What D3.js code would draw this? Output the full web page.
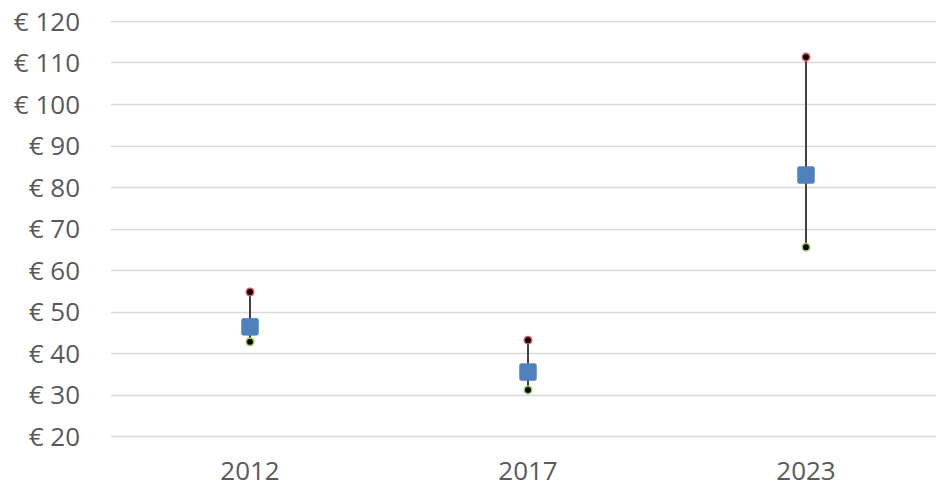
<!DOCTYPE html>
<html><head><meta charset="utf-8">
<script src="https://cdn.jsdelivr.net/npm/d3@7"></script>
<style>body{margin:0;background:#fff}svg{display:block}</style>
</head><body>
<svg id="c" width="936" height="493"></svg>
<script>
const categories = ["2012", "2017", "2023"];
const highValues = [54.7, 43.1, 111.3];
const midValues = [46.3, 35.4, 82.9];
const lowValues = [42.7, 31.1, 65.5];
const yTicks = [20, 30, 40, 50, 60, 70, 80, 90, 100, 110, 120];

(function () {
const svg = d3.select("#c");
const mLeft = 111, mRight = 945, mTop = 21, mBottom = 436;
const x = d3.scaleBand().domain(categories).range([mLeft, mRight]);
const y = d3.scaleLinear().domain([20, 120]).range([mBottom, mTop]);
const font = "'Open Sans', sans-serif";

// grid
svg.append("g").selectAll("line").data(yTicks).join("line")
  .attr("x1", mLeft).attr("x2", 936)
  .attr("y1", d => Math.round(y(d)) + 0.5).attr("y2", d => Math.round(y(d)) + 0.5)
  .attr("stroke", "#d9d9d9").attr("stroke-width", 1.5);

// y labels
const yAxis = d3.axisLeft(y).tickValues(yTicks).tickSize(0).tickPadding(0)
  .tickFormat(d => "€ " + d);
const ya = svg.append("g").attr("transform", `translate(${mLeft - 31},0)`).call(yAxis);
ya.select(".domain").remove();
ya.attr("font-family", font).attr("font-size", 26);
ya.selectAll("text").attr("font-family", font).attr("font-size", 26).attr("fill", "#595959")
  .attr("text-anchor", "end").attr("dy", "0.36em");

// x labels
const xAxis = d3.axisBottom(x).tickSize(0).tickPadding(0);
const xa = svg.append("g").attr("transform", `translate(0,${mBottom + 35})`).call(xAxis);
xa.select(".domain").remove();
xa.attr("font-family", font).attr("font-size", 26);
xa.selectAll("text").attr("font-family", font).attr("font-size", 26).attr("fill", "#595959")
  .attr("dy", "0.36em");

const cx = d => x(d) + x.bandwidth() / 2;
const data = categories.map((c, i) => ({c, hi: highValues[i], mid: midValues[i], lo: lowValues[i]}));

// hi-lo lines
svg.append("g").selectAll("line").data(data).join("line")
  .attr("x1", d => cx(d.c)).attr("x2", d => cx(d.c))
  .attr("y1", d => y(d.hi)).attr("y2", d => y(d.lo))
  .attr("stroke", "#404040").attr("stroke-width", 2);

// high markers
svg.append("g").selectAll("circle").data(data).join("circle")
  .attr("cx", d => cx(d.c)).attr("cy", d => y(d.hi)).attr("r", 3.7)
  .attr("fill", "#000").attr("stroke", "#d9585a").attr("stroke-width", 1.6);

// low markers
svg.append("g").selectAll("circle").data(data).join("circle")
  .attr("cx", d => cx(d.c)).attr("cy", d => y(d.lo)).attr("r", 3.7)
  .attr("fill", "#000").attr("stroke", "#9bc35b").attr("stroke-width", 1.6);

// mid squares
svg.append("g").selectAll("rect").data(data).join("rect")
  .attr("x", d => cx(d.c) - 8.5).attr("y", d => y(d.mid) - 8.5)
  .attr("width", 17).attr("height", 17).attr("rx", 2)
  .attr("fill", "#4f81bd").attr("stroke", "#4a7ebb").attr("stroke-width", 0.5);
})();
</script>
</body></html>
